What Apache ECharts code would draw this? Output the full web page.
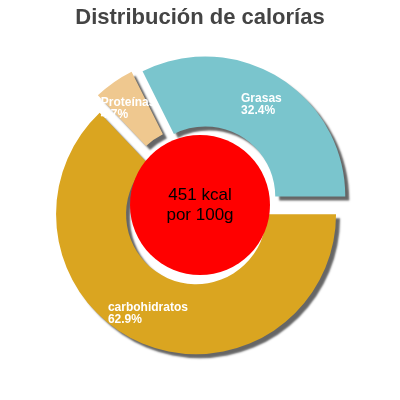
<!DOCTYPE html>
<html><head><meta charset="utf-8">
<script src="https://cdn.jsdelivr.net/npm/echarts@6/dist/echarts.min.js"></script>
<style>html,body{margin:0;background:#fff}#c{width:400px;height:400px}</style>
</head><body><div id="c"></div>
<script>
const categories = ['Grasas', 'carbohidratos', 'Proteínas'];
const values = [32.4, 62.9, 4.7];
const colors = ['#7ac5cd', '#daa520', '#efc88f'];
const centerText = '451 kcal\npor 100g';
const chart = echarts.init(document.getElementById('c'));
chart.setOption({
  animation: false,
  title: { text: 'Distribución de calorías', left: 'center', top: 2,
    textStyle: { fontFamily: 'Liberation Sans', fontSize: 22, fontWeight: 'bold', color: '#444' } },
  series: [{
    type: 'pie', center: [200, 205], radius: [70, 140], startAngle: 116.6, clockwise: true,
    selectedMode: 'multiple', selectedOffset: 10, z: 2,
    itemStyle: { borderWidth: 0, shadowColor: 'rgba(0,0,0,0.6)', shadowOffsetX: 4, shadowOffsetY: 4, shadowBlur: 2 },
    label: { position: 'inside', color: '#fff', fontWeight: 'bold', fontSize: 12,
      fontFamily: 'Liberation Sans', lineHeight: 12 },
    labelLine: { show: false },
    data: categories.map((c, i) => ({ name: c, value: values[i], selected: true, itemStyle: { color: colors[i] },
      label: { formatter: '{a|' + c + '}\n{a|' + values[i] + '%}', rich: { a: { width: c.length * 7, align: 'left', color: '#fff', fontWeight: 'bold', fontSize: 12 } } } }))
  }, {
    type: 'pie', center: [200, 205], radius: [0, 70], silent: true, z: 5,
    label: { position: 'center', formatter: centerText, color: '#000', fontSize: 17, fontFamily: 'Liberation Sans', lineHeight: 20 },
    labelLine: { show: false },
    data: [{ value: 1, itemStyle: { color: '#ff0000' } }]
  }]
});
</script></body></html>
